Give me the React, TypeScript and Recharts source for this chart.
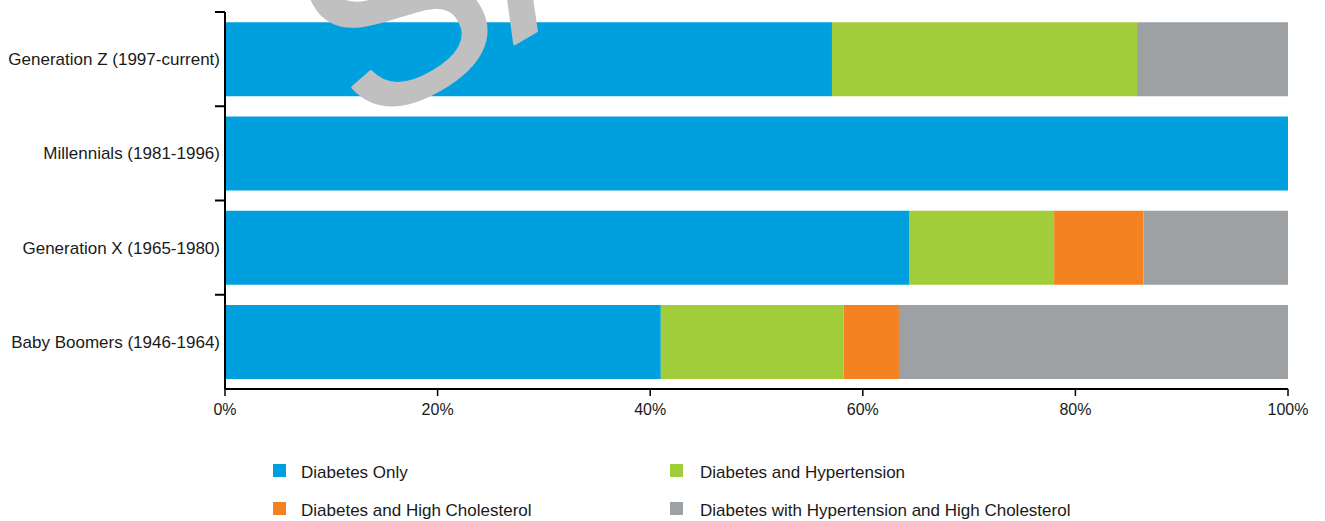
import React from "react";
import { BarChart, Bar, XAxis, YAxis, Legend } from "recharts";

const categories = [
  "Generation Z (1997-current)",
  "Millennials (1981-1996)",
  "Generation X (1965-1980)",
  "Baby Boomers (1946-1964)",
];
const diabetesOnly = [57.1, 100, 64.4, 41.0];
const diabetesHypertension = [28.7, 0, 13.6, 17.2];
const diabetesCholesterol = [0, 0, 8.4, 5.2];
const diabetesBoth = [14.2, 0, 13.6, 36.6];
const xTicks = [0, 20, 40, 60, 80, 100];

const seriesNames = [
  "Diabetes Only",
  "Diabetes and Hypertension",
  "Diabetes and High Cholesterol",
  "Diabetes with Hypertension and High Cholesterol",
];
const seriesKeys = ["only", "hyper", "chol", "both"];
const seriesColors = ["#00A0DF", "#A2CD3A", "#F58220", "#9EA1A3"];

const data = categories.map((name, i) => ({
  name,
  only: diabetesOnly[i],
  hyper: diabetesHypertension[i],
  chol: diabetesCholesterol[i],
  both: diabetesBoth[i],
}));

const FONT = "'Liberation Sans', Arial, sans-serif";

const YTick = (props: any) => {
  const { x, y, payload } = props;
  const half = payload && payload.offset ? payload.offset : 0;
  return (
    <g>
      <line x1={x - 5} x2={x + 5} y1={y - half} y2={y - half} stroke="#000" strokeWidth={2} />
      <text x={x} y={y} dy="0.35em" textAnchor="end" fill="#1a1a1a" fontSize={17} fontFamily={FONT}>
        {payload.value}
      </text>
    </g>
  );
};

const legendPos = [
  { mx: 265, my: 45, tx: 293, ty: 54 },
  { mx: 662, my: 45, tx: 692, ty: 54 },
  { mx: 265, my: 83, tx: 293, ty: 92 },
  { mx: 662, my: 83, tx: 692, ty: 92 },
];

const LegendContent = () => (
  <div style={{ position: "relative", width: 1309, height: 102, fontFamily: FONT }}>
    {seriesNames.map((n, i) => (
      <React.Fragment key={n}>
        <div
          style={{
            position: "absolute",
            left: legendPos[i].mx,
            top: legendPos[i].my,
            width: 13,
            height: 13,
            background: seriesColors[i],
          }}
        />
        <div
          style={{
            position: "absolute",
            left: legendPos[i].tx,
            top: legendPos[i].ty - 10,
            lineHeight: "20px",
            fontSize: 17,
            color: "#1a1a1a",
            whiteSpace: "nowrap",
          }}
        >
          {n}
        </div>
      </React.Fragment>
    ))}
  </div>
);

export default function App() {
  return (
    <div style={{ position: "relative", width: 1309, height: 513 }}>
      <BarChart
        width={1309}
        height={513}
        data={data}
        layout="vertical"
        margin={{ top: 4, right: 29, bottom: 0, left: 0 }}
        barCategoryGap="11%"
      >
        <XAxis
          type="number"
          domain={[0, 100]}
          ticks={xTicks}
          tickFormatter={(v: number) => `${v}%`}
          height={30}
          tickSize={7}
          tickMargin={8}
          axisLine={{ stroke: "#000", strokeWidth: 2 }}
          tickLine={{ stroke: "#000", strokeWidth: 1.5 }}
          tick={{ fill: "#1a1a1a", fontSize: 16, fontFamily: FONT }}
          allowDataOverflow
        />
        <XAxis
          xAxisId="top"
          orientation="top"
          type="number"
          domain={[0, 100]}
          height={0}
          tick={false}
          tickLine={false}
          axisLine={{ stroke: "#000", strokeWidth: 2 }}
        />
        <YAxis
          type="category"
          dataKey="name"
          width={217}
          tickSize={0}
          tickMargin={5}
          tickLine={false}
          axisLine={{ stroke: "#000", strokeWidth: 2 }}
          tick={<YTick />}
          interval={0}
        />
        <YAxis
          yAxisId="right"
          orientation="right"
          type="number"
          domain={[0, 1]}
          width={0}
          tick={false}
          tickLine={false}
          axisLine={{ stroke: "#000", strokeWidth: 2 }}
        />
        {seriesKeys.map((k, i) => (
          <Bar
            key={k}
            dataKey={k}
            name={seriesNames[i]}
            stackId="a"
            fill={seriesColors[i]}
            isAnimationActive={false}
          />
        ))}
        <Legend verticalAlign="bottom" content={<LegendContent />} wrapperStyle={{ left: 0, width: 1309 }} />
      </BarChart>
      <svg
        width={700}
        height={200}
        style={{ position: "fixed", left: 0, top: 0, pointerEvents: "none", overflow: "hidden", zIndex: 5 }}
      >
        <g transform="translate(392,7) rotate(-30)">
          <text
            x={-86}
            y={93}
            fontSize={260}
            fontFamily={FONT}
            fill="#C0C0C0"
            stroke="#C0C0C0"
            strokeWidth={3}
            strokeLinejoin="round"
          >
            SAMPLE
          </text>
        </g>
      </svg>
    </div>
  );
}
